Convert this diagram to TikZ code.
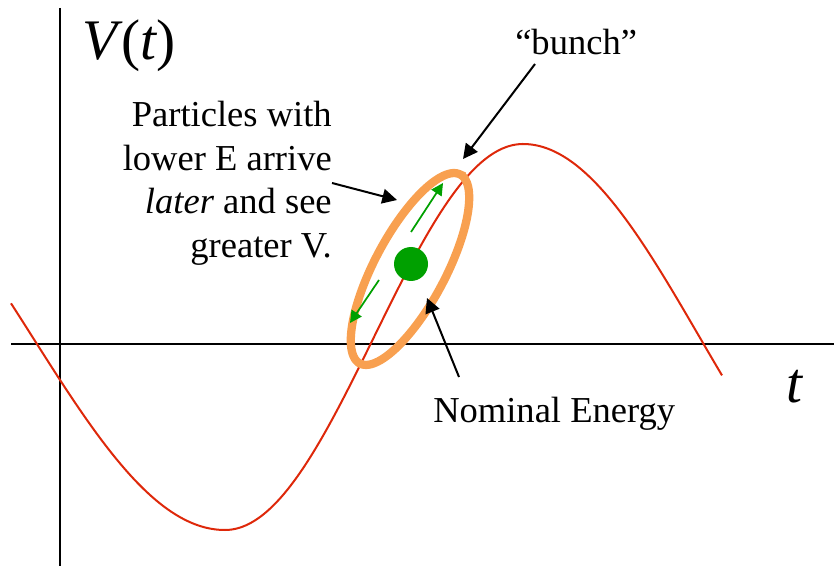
\documentclass[tikz,border=0pt]{standalone}
\usepackage{fontspec}
\setmainfont{Liberation Serif}[ItalicFont={Liberation Serif Italic}]
\usetikzlibrary{arrows.meta}
\definecolor{curvered}{RGB}{222,40,10}
\definecolor{bunchorange}{RGB}{248,160,80}
\definecolor{dotgreen}{RGB}{0,160,0}
\begin{document}
\begin{tikzpicture}[x=0.75pt,y=-0.75pt,
  axis/.style={line width=1.5pt},
  wave/.style={curvered,line width=1.5pt},
  ring/.style={bunchorange,line width=6.2pt},
  pointer/.style={line width=1.5pt,-{Triangle[length=11pt,width=11pt]}},
  greenarrow/.style={dotgreen,line width=1.3pt,-{Triangle[length=9pt,width=9pt]}},
  label/.style={font=\fontsize{27.4}{33}\selectfont,inner sep=0pt},
  biglabel/.style={font=\fontsize{43}{50}\selectfont,inner sep=0pt}]
\useasboundingbox (0,0) rectangle (834,566);
% axes
\coordinate (vtop) at (60,8);
\coordinate (vbot) at (60,566);
\coordinate (hleft) at (11,344);
\coordinate (hright) at (834,344);
\draw[axis] (vtop) -- (vbot);
\draw[axis] (hleft) -- (hright);
% wave
\draw[wave] plot[domain=11:225,samples=80]
  (\x,{337+193*cos((\x-225)/385*180)})
  -- plot[domain=225:523,samples=100]
  (\x,{337+193*cos((\x-225)/298*180)})
  -- plot[domain=523:722,samples=80]
  (\x,{337-193*cos((\x-523)/353*180)});
% bunch ellipse
\draw[ring] plot[domain=0:360,samples=120]
  ({410+107*cos(\x)*cos(62)-35.5*sin(\x)*sin(62)},{269-107*cos(\x)*sin(62)-35.5*sin(\x)*cos(62)}) -- cycle;
% green dot and arrows
\node[circle,fill=dotgreen,minimum size=25.5pt,inner sep=0pt] (dot) at (411,264) {};
\coordinate (ga1s) at (411,232);
\coordinate (ga1e) at (443,183);
\coordinate (ga2s) at (379,280);
\coordinate (ga2e) at (350,323);
\draw[greenarrow] (ga1s) -- (ga1e);
\draw[greenarrow] (ga2s) -- (ga2e);
% labels
\node[biglabel,anchor=base west] (vt) at (82,60) {\itshape V\kern3pt\upshape(\itshape t\upshape)};
\node[biglabel,anchor=base west] (tt) at (786,402) {\itshape t};
\node[label,anchor=base east] (p1) at (332,127) {Particles with};
\node[label,anchor=base east] (p2) at (332,170.5) {lower E arrive};
\node[label,anchor=base east] (p3) at (332,214) {\textit{later} and see};
\node[label,anchor=base east] (p4) at (332,257.5) {greater V.};
\node[label,anchor=base west] (bunch) at (515,55) {“bunch”};
\node[label,anchor=base west] (nom) at (433,422) {Nominal Energy};
% pointers
\coordinate (bs) at (535,64);
\coordinate (be) at (463,159);
\coordinate (ps) at (332,183);
\coordinate (pe) at (397,200);
\coordinate (ns) at (459,377);
\coordinate (ne) at (427,298);
\draw[pointer] (bs) -- (be);
\draw[pointer] (ps) -- (pe);
\draw[pointer] (ns) -- (ne);
\end{tikzpicture}
\end{document}
